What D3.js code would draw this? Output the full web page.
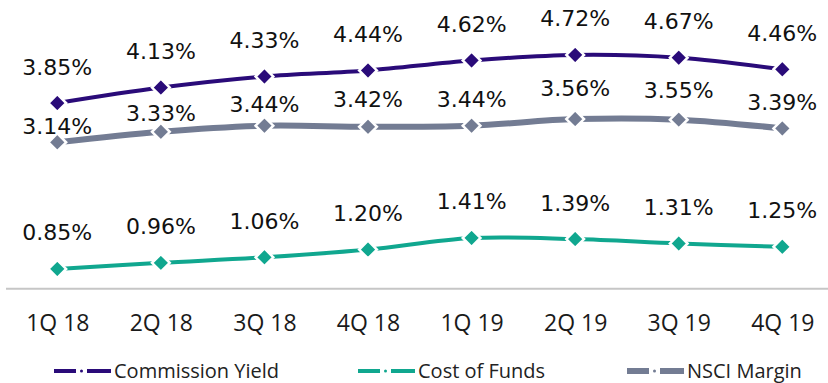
<!DOCTYPE html>
<html>
<head>
<meta charset="utf-8">
<script src="https://cdn.jsdelivr.net/npm/d3@7"></script>
<style>
  html, body { margin: 0; padding: 0; background: #ffffff; }
  svg { display: block; }
</style>
</head>
<body>
<svg id="chart" width="828" height="383"></svg>
<script>
// Quarterly yield, funding cost and margin (percent)
const quarters = ["1Q 18", "2Q 18", "3Q 18", "4Q 18", "1Q 19", "2Q 19", "3Q 19", "4Q 19"];
const commissionYield = [3.85, 4.13, 4.33, 4.44, 4.62, 4.72, 4.67, 4.46];
const costOfFunds = [0.85, 0.96, 1.06, 1.20, 1.41, 1.39, 1.31, 1.25];
const nsciMargin = [3.14, 3.33, 3.44, 3.42, 3.44, 3.56, 3.55, 3.39];
const seriesNames = ["Commission Yield", "Cost of Funds", "NSCI Margin"];

// Label placement: gap between a marker and its value label's baseline
const labelGapDefault = 28.5;
const nsciLabelGap = [8, 11, 14, 20, 19, 23, 22, 18];

const W = 828, H = 383;
const svg = d3.select("#chart");

const x = d3.scalePoint().domain(quarters).range([5.5, 834.1]).padding(0.5);
const y = d3.scaleLinear().domain([0.5, 5.5]).range([288.3, 11.8]);

// Category axis along the bottom of the plot
const axis = d3.axisBottom(x).tickSize(0).tickPadding(0);
const gAxis = svg.append("g").attr("transform", `translate(0,${y(0.5)})`).call(axis);
gAxis.select(".domain").attr("stroke", "#c6c6c6").attr("stroke-width", 2);
gAxis.selectAll(".tick text")
  .attr("dy", null)
  .attr("y", 42.4)
  .attr("font-family", "'Open Sans', sans-serif")
  .attr("font-size", 23)
  .attr("fill", "#1a1a1a");

const series = [
  { name: seriesNames[0], values: commissionYield, color: "#2a0b79", width: 4, gaps: null },
  { name: seriesNames[1], values: costOfFunds, color: "#10a78f", width: 4, gaps: null },
  { name: seriesNames[2], values: nsciMargin, color: "#737c93", width: 6, gaps: nsciLabelGap }
];

const line = d3.line()
  .x((d, i) => x(quarters[i]))
  .y(d => y(d))
  .curve(d3.curveCatmullRom.alpha(0.5));

const diamond = d3.symbol().type(d3.symbolDiamond2).size(200);

series.forEach(s => {
  const g = svg.append("g");
  g.append("path")
    .datum(s.values)
    .attr("d", line)
    .attr("fill", "none")
    .attr("stroke", s.color)
    .attr("stroke-width", s.width)
    .attr("stroke-linecap", "butt");

  g.selectAll("path.marker")
    .data(s.values)
    .join("path")
    .attr("class", "marker")
    .attr("d", diamond)
    .attr("transform", (d, i) => `translate(${x(quarters[i])},${y(d)})`)
    .attr("fill", s.color)
    .attr("stroke", "#ffffff")
    .attr("stroke-width", 2.5);

  g.selectAll("text.value")
    .data(s.values)
    .join("text")
    .attr("class", "value")
    .attr("x", (d, i) => x(quarters[i]))
    .attr("y", (d, i) => y(d) - (s.gaps ? s.gaps[i] : labelGapDefault))
    .attr("text-anchor", "middle")
    .attr("font-family", "'DejaVu Sans', sans-serif")
    .attr("font-size", 22)
    .attr("fill", "#111111")
    .text(d => d.toFixed(2) + "%");
});

// Legend: dash-dot-dash swatch followed by the series name
const legendX = [54, 358, 627];
const legend = svg.append("g");
series.forEach((s, i) => {
  const g = legend.append("g").attr("transform", `translate(${legendX[i]},371)`);
  g.append("line").attr("x1", 0).attr("x2", 22).attr("y1", 0).attr("y2", 0)
    .attr("stroke", s.color).attr("stroke-width", s.width);
  g.append("line").attr("x1", 33).attr("x2", 57).attr("y1", 0).attr("y2", 0)
    .attr("stroke", s.color).attr("stroke-width", s.width);
  g.append("circle").attr("cx", 27.5).attr("cy", 0).attr("r", 1.5).attr("fill", s.color);
  g.append("text")
    .attr("x", 60)
    .attr("y", 7)
    .attr("font-family", "'Open Sans', sans-serif")
    .attr("font-size", 20)
    .attr("fill", "#222222")
    .text(s.name);
});
</script>
</body>
</html>
